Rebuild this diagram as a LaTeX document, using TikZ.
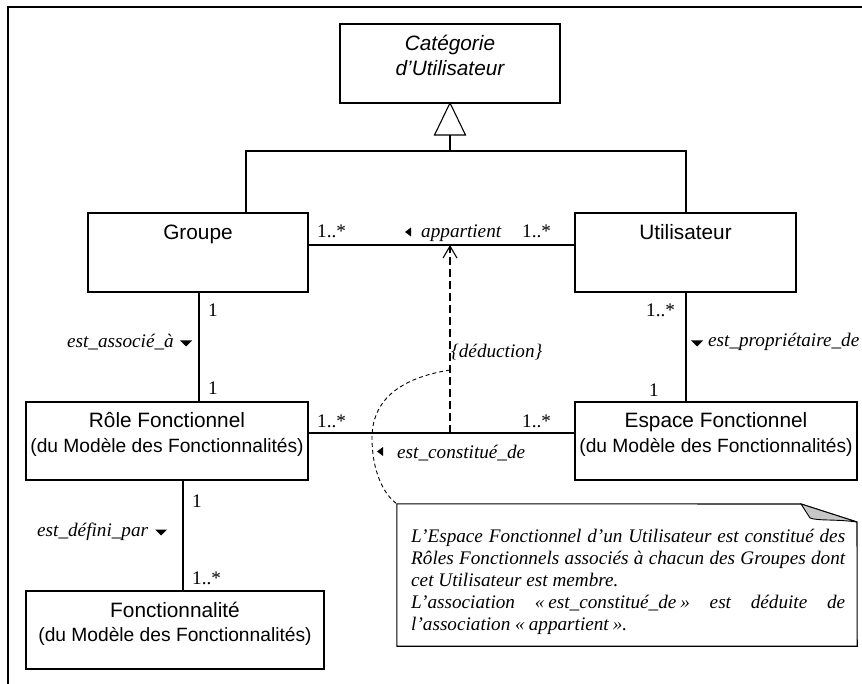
\documentclass[tikz,border=0pt]{standalone}
\usepackage{fontspec}
\setmainfont{Liberation Serif}
\newfontfamily\arialf{Liberation Sans}
\usetikzlibrary{arrows.meta}
\begin{document}
\begin{tikzpicture}[x=1pt,y=-1pt,
  cls/.style={draw, line width=1.1pt, inner sep=0pt, outer sep=0pt},
  assoc/.style={line width=1.1pt},
  nm/.style={anchor=base, inner sep=0pt, font=\arialf\fontsize{20.8}{24}\selectfont},
  nmit/.style={anchor=base, inner sep=0pt, font=\arialf\itshape\fontsize{20.8}{24}\selectfont},
  subt/.style={anchor=base, inner sep=0pt, font=\arialf\fontsize{19.2}{22}\selectfont},
  mult/.style={anchor=base west, inner sep=0pt, font=\fontsize{19.2}{22}\selectfont},
  rolelbl/.style={inner sep=0pt, font=\fontsize{19.2}{22}\selectfont\itshape},
  notetxt/.style={anchor=base west, inner sep=0pt, font=\fontsize{19.2}{22}\selectfont\itshape},
  deppath/.style={line width=1.1pt, dash pattern=on 8pt off 4pt, -{Straight Barb[length=12pt,width=14pt]}},
  notelink/.style={line width=0.9pt, dash pattern=on 4pt off 3pt}
]
\useasboundingbox (0,0) rectangle (862,684);
% frame
\draw[line width=2pt] (8,684) -- (8,7) -- (862,7);

% classes
\node[cls, minimum width=220pt, minimum height=79pt] (cat) at (450,63.5) {};
\node[nmit] (catA) at (450,51) {Catégorie};
\node[nmit] (catB) at (450,76) {d’Utilisateur};

\node[cls, minimum width=220pt, minimum height=79pt] (grp) at (198,252.5) {};
\node[nm] (grpT) at (198,240) {Groupe};

\node[cls, minimum width=221pt, minimum height=79pt] (usr) at (685.5,252.5) {};
\node[nm] (usrT) at (685.5,240) {Utilisateur};

\node[cls, minimum width=282pt, minimum height=78pt] (role) at (167,441) {};
\node[nm] (roleA) at (167,428) {Rôle Fonctionnel};
\node[subt] (roleB) at (167,452) {(du Modèle des Fonctionnalités)};

\node[cls, minimum width=282pt, minimum height=78pt] (esp) at (716,441) {};
\node[nm] (espA) at (716,428) {Espace Fonctionnel};
\node[subt] (espB) at (716,452) {(du Modèle des Fonctionnalités)};

\node[cls, minimum width=298pt, minimum height=78pt] (fct) at (175,630) {};
\node[nm] (fctA) at (175,617) {Fonctionnalité};
\node[subt] (fctB) at (175,641) {(du Modèle des Fonctionnalités)};

% generalization
\coordinate (triB) at (450,135);
\coordinate (gen) at (450,151);
\coordinate (genL) at (246,151);
\coordinate (genR) at (686,151);
\draw[assoc, fill=white] (cat.south) -- ++(-15.5,32) -- ++(31,0) -- cycle;
\draw[assoc] (triB) -- (gen);
\draw[assoc] (genL |- grp.north) -- (genL) -- (genR) -- (genR |- usr.north);

% associations
\coordinate (apY) at (450,245);
\coordinate (ctY) at (450,433);
\coordinate (gaX) at (199,0);
\coordinate (fdX) at (183,0);
\coordinate (epX) at (686,0);
\draw[assoc] (grp.east |- apY) -- (usr.west |- apY);
\draw[assoc] (role.east |- ctY) -- (esp.west |- ctY);
\draw[assoc] (gaX |- grp.south) -- (gaX |- role.north);
\draw[assoc] (fdX |- role.south) -- (fdX |- fct.north);
\draw[assoc] (epX |- usr.south) -- (epX |- esp.north);

% dependency
\draw[deppath] (ctY) -- (apY);

% note
\node[inner sep=0pt, minimum width=460pt, minimum height=142pt] (note) at (627,575) {};
\draw[assoc, fill=white] (note.north west) -- (801,504) -- (857,522) -- (note.south east) -- (note.south west) -- cycle;
\filldraw[fill=gray!45, line width=0.9pt] (801,504) -- (857,522) .. controls (835,519) and (818,521) .. (810,518) -- cycle;
\coordinate (dd) at (450,370);
\draw[notelink] (dd) .. controls (400,378) and (372,400) .. (372,438) .. controls (372,470) and (383,494) .. (note.north west);

% multiplicities
\node[mult] (m1) at (317,238) {1..*};
\node[mult] (m2) at (522,238) {1..*};
\node[mult] (m3) at (317,428) {1..*};
\node[mult] (m4) at (522,428) {1..*};
\node[mult] (m5) at (208,317) {1};
\node[mult] (m6) at (208,395) {1};
\node[mult] (m7) at (192,507) {1};
\node[mult] (m8) at (192,584) {1..*};
\node[mult] (m9) at (646,317) {1..*};
\node[mult] (m10) at (649,396) {1};

% role labels
\node[rolelbl, anchor=base west] (lap) at (421,238) {appartient};
\node[rolelbl, anchor=base west] (lct) at (397,458) {est\_constitué\_de};
\node[rolelbl, anchor=base east] (las) at (174,348) {est\_associé\_à};
\node[rolelbl, anchor=base west] (ldp) at (37,536) {est\_défini\_par};
\node[rolelbl, anchor=base west] (lpr) at (708,347) {est\_propriétaire\_de};
\node[rolelbl, anchor=base west] (ldd) at (451,358) {\{déduction\}};

% direction triangles
\fill (405,232) -- (411,227.5) -- (411,236.5) -- cycle;
\fill (377,451.5) -- (383,447) -- (383,456) -- cycle;
\fill (180,340.5) -- (192,340.5) -- (186,346.5) -- cycle;
\fill (155,529.5) -- (167,529.5) -- (161,535.5) -- cycle;
\fill (691,340.5) -- (703,340.5) -- (697,346.5) -- cycle;

% note text
\node[notetxt] (n1) at (411,542) {\makebox[434pt][s]{L’Espace Fonctionnel d’un Utilisateur est constitué des}};
\node[notetxt] (n2) at (411,564) {\makebox[434pt][s]{Rôles Fonctionnels associés à chacun des Groupes dont}};
\node[notetxt] (n3) at (411,586) {cet Utilisateur est membre.};
\node[notetxt] (n4) at (411,608) {\makebox[434pt][s]{L’association «\kern4pt est\_constitué\_de\kern4pt» est déduite de}};
\node[notetxt] (n5) at (411,630) {l’association «\kern4pt appartient\kern4pt».};
\end{tikzpicture}
\end{document}
